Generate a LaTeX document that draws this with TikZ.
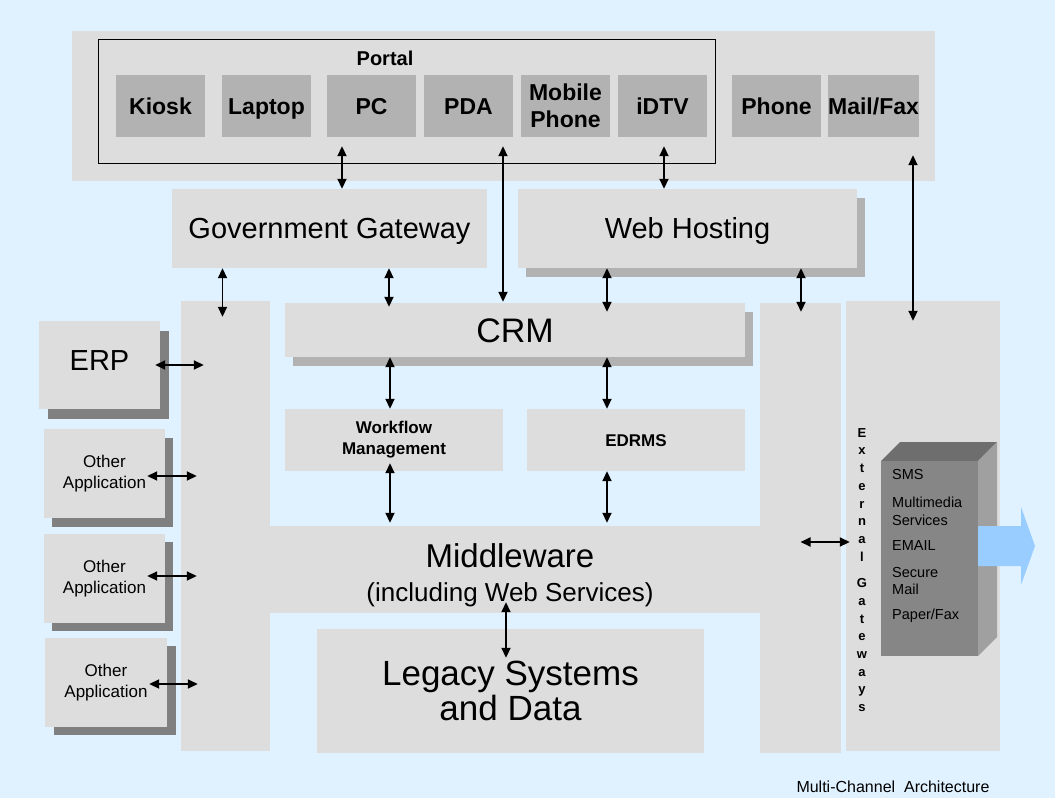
\documentclass[tikz,border=0pt]{standalone}
\usepackage{fontspec}
\setmainfont{Liberation Sans}
\usetikzlibrary{arrows.meta,shadows}
\definecolor{bgblue}{RGB}{224,242,255}
\definecolor{boxgray}{RGB}{221,221,221}
\definecolor{devgray}{RGB}{178,178,178}
\definecolor{darkshade}{RGB}{128,128,128}
\definecolor{frontgray}{RGB}{134,134,134}
\definecolor{topgray}{RGB}{110,110,110}
\definecolor{sidegray}{RGB}{160,160,160}
\definecolor{arrowblue}{RGB}{153,204,255}
\newcommand{\mybox}[7]{\node[#1, minimum width={#5-#3}, minimum height={#6-#4}] (#2) at ({(#3+#5)/2},{(#4+#6)/2}) {#7};}
\begin{document}
\begin{tikzpicture}[x=1pt,y=-1pt,
  box/.style={fill=boxgray, draw=none, inner sep=0pt, align=center},
  dev/.style={fill=devgray, draw=none, inner sep=0pt, align=center, font=\bfseries\fontsize{23}{26.7}\selectfont},
  devone/.style={dev, text height=16.5pt, text depth=0pt},
  lightshadow/.style={general shadow={fill=devgray, shadow xshift=8pt, shadow yshift=-9pt}},
  arr/.style={line width=1.8pt, {Triangle[length=10pt,width=9pt]}-{Triangle[length=10pt,width=9pt]}},
  gwtxt/.style={anchor=west, inner sep=0pt, font=\fontsize{14.5}{17.7}\selectfont, align=left},
]
\useasboundingbox (0,0) rectangle (1055,798);
\fill[bgblue] (0,0) rectangle (1055,798);

% top band with channels
\mybox{box}{band}{72}{31}{935}{181}{}
\mybox{draw=black, line width=1pt, inner sep=0pt}{portal}{98}{39}{715}{163}{}
\node[inner sep=0pt, text height=14.3pt, text depth=0pt, font=\bfseries\fontsize{20}{24}\selectfont] (portaltitle) at (385,58) {Portal};
\mybox{devone}{kiosk}{116}{75}{205}{137}{Kiosk}
\mybox{devone}{laptop}{222}{75}{311}{137}{Laptop}
\mybox{devone}{pc}{327}{75}{416}{137}{PC}
\mybox{devone}{pda}{424}{75}{513}{137}{PDA}
\mybox{dev}{mobile}{521}{75}{610}{137}{Mobile\\Phone}
\mybox{devone}{idtv}{618}{75}{707}{137}{iDTV}
\mybox{devone}{phone}{732}{75}{821}{137}{Phone}
\mybox{devone}{mailfax}{829}{75}{918}{137}{Mail/Fax}

% gateways
\mybox{box, text height=20.8pt, text depth=0pt, font=\fontsize{29}{34}\selectfont}{gov}{172}{189}{487}{268}{Government Gateway}
\mybox{box, lightshadow, text height=20.8pt, text depth=0pt, font=\fontsize{29}{34}\selectfont}{web}{518}{189}{857}{268}{Web Hosting}

% middleware H-shape
\mybox{box}{leftcol}{181}{301}{270}{751}{}
\mybox{box}{rightcol}{760}{303}{841}{753}{}
\mybox{box}{midband}{269}{526}{761}{613}{}
\node[inner sep=0pt, text height=23.6pt, text depth=0pt, font=\fontsize{33}{38}\selectfont] (mwtitle) at (510,555.5) {Middleware};
\node[inner sep=0pt, text height=18.6pt, text depth=0pt, font=\fontsize{26}{30}\selectfont] (mwsub) at (510,592) {(including Web Services)};

% CRM and services
\mybox{box, lightshadow, text height=24.3pt, text depth=0pt, font=\fontsize{34}{38}\selectfont}{crm}{285}{303}{745}{357}{CRM}
\mybox{box, font=\bfseries\fontsize{17}{21}\selectfont}{workflow}{285}{409}{503}{471}{Workflow\\Management}
\mybox{box, text height=12.2pt, text depth=0pt, font=\bfseries\fontsize{17}{21}\selectfont}{edrms}{527}{409}{745}{471}{EDRMS}
\mybox{box, font=\fontsize{35}{35}\selectfont}{legacy}{317}{629}{704}{753}{Legacy Systems\\and Data}

% left applications
\mybox{box, general shadow={fill=darkshade, shadow xshift=9pt, shadow yshift=-10pt}, text height=10.8pt, text depth=0pt, font=\fontsize{29}{34}\selectfont}{erp}{39}{321}{160}{409}{ERP}
\mybox{box, general shadow={fill=darkshade, shadow xshift=8pt, shadow yshift=-9pt}, font=\fontsize{17}{20.7}\selectfont}{oaone}{44}{429}{165}{518}{Other\\Application}
\mybox{box, general shadow={fill=darkshade, shadow xshift=8pt, shadow yshift=-8pt}, font=\fontsize{17}{20.7}\selectfont}{oatwo}{44}{534}{165}{623}{Other\\Application}
\mybox{box, general shadow={fill=darkshade, shadow xshift=9pt, shadow yshift=-8pt}, font=\fontsize{17}{20.7}\selectfont}{oathree}{45}{638}{167}{727}{Other\\Application}

% external gateways
\mybox{box}{ext}{846}{301}{1000}{751}{}
\node[inner sep=0pt, align=center, font=\bfseries\fontsize{13}{17.7}\selectfont] (extlabel) at (862,570)
  {E\\x\\t\\e\\r\\n\\a\\l\\[8.9pt]G\\a\\t\\e\\w\\a\\y\\s};
\fill[topgray] (881,461) -- (978,461) -- (997,442) -- (900,442) -- cycle;
\fill[sidegray] (978,461) -- (997,442) -- (997,637) -- (978,656) -- cycle;
\mybox{fill=frontgray, inner sep=0pt}{gwbox}{881}{461}{978}{656}{}
\fill[arrowblue] (978,526) -- (1021,526) -- (1021,507) -- (1035,546) -- (1021,585) -- (1021,566) -- (978,566) -- cycle;
\node[gwtxt] (sms) at (892,475) {SMS};
\node[gwtxt] (multi) at (892,511) {Multimedia\\Services};
\node[gwtxt] (email) at (892,546) {EMAIL};
\node[gwtxt] (secure) at (892,581) {Secure\\Mail};
\node[gwtxt] (paper) at (892,616) {Paper/Fax};

% caption
\node[inner sep=0pt, text height=11.4pt, text depth=0pt, font=\fontsize{16}{19}\selectfont] (caption) at (893,787) {Multi-Channel\ \ Architecture};

% connectors
\draw[arr, shorten <=9pt] (342,0 |- pc.south) -- (342,0 |- gov.north);
\draw[arr, shorten <=9pt, shorten >=1pt] (503,0 |- pda.south) -- (503,0 |- crm.north);
\draw[arr, shorten <=9pt] (664,0 |- idtv.south) -- (664,0 |- web.north);
\draw[arr, shorten <=18pt, shorten >=-20pt] (913,0 |- mailfax.south) -- (913,0 |- ext.north);
\draw[arr, shorten >=-16pt] (222.5,0 |- gov.south) -- (222.5,0 |- leftcol.north);
\draw[arr, shorten >=-4pt] (389,0 |- gov.south) -- (389,0 |- crm.north);
\draw[arr, shorten >=-9pt] (607,0 |- web.south) -- (607,0 |- crm.north);
\draw[arr, shorten >=-9pt] (801,0 |- web.south) -- (801,0 |- rightcol.north);
\draw[arr, shorten <=-5pt, shorten >=-23pt] (erp.east |- 0,365) -- (leftcol.west |- 0,365);
\draw[arr, shorten <=-18pt, shorten >=-16pt] (oaone.east |- 0,476) -- (leftcol.west |- 0,476);
\draw[arr, shorten <=-18pt, shorten >=-16pt] (oatwo.east |- 0,576) -- (leftcol.west |- 0,576);
\draw[arr, shorten <=-18pt, shorten >=-17pt] (oathree.east |- 0,684) -- (leftcol.west |- 0,684);
\draw[arr] (390,0 |- crm.south) -- (390,0 |- workflow.north);
\draw[arr] (607,0 |- crm.south) -- (607,0 |- edrms.north);
\draw[arr, shorten <=-8pt, shorten >=3pt] (390,0 |- workflow.south) -- (390,0 |- midband.north);
\draw[arr, shorten >=3pt] (607,0 |- edrms.south) -- (607,0 |- midband.north);
\draw[arr, shorten <=-11pt, shorten >=-29pt] (506,0 |- midband.south) -- (506,0 |- legacy.north);
\draw[arr, shorten >=-4pt] (rightcol.center |- 0,542) -- (ext.west |- 0,542);
\end{tikzpicture}
\end{document}
